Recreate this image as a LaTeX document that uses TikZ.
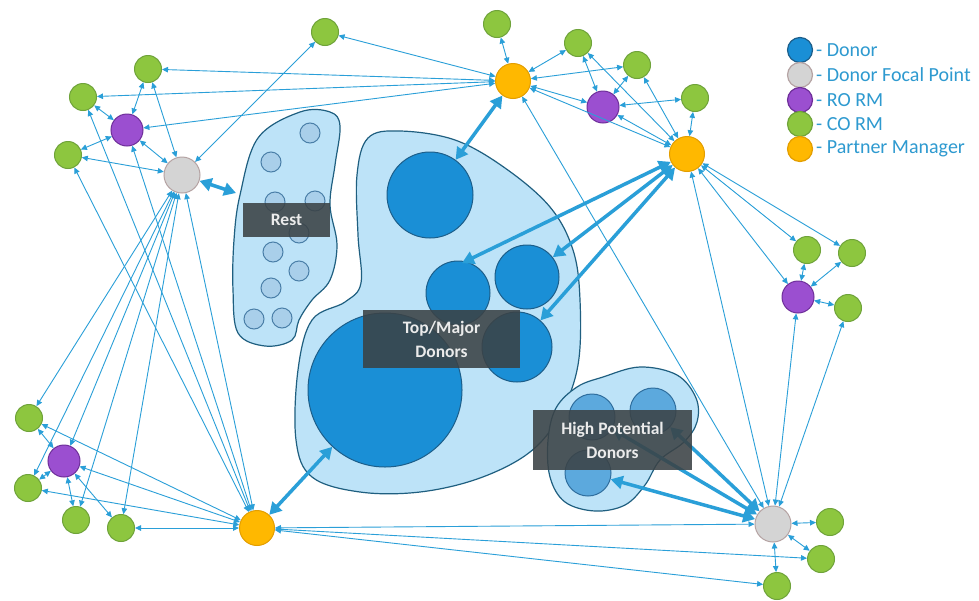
\documentclass[tikz,border=0pt]{standalone}
\usepackage{fontspec}
\setmainfont{Carlito}
\usetikzlibrary{arrows.meta}
\definecolor{edgec}{HTML}{2A9FD8}
\definecolor{greenf}{HTML}{8DC63F}
\definecolor{greenb}{HTML}{6FA33A}
\definecolor{purpf}{HTML}{9B4FD0}
\definecolor{purpb}{HTML}{6E2E99}
\definecolor{orangef}{HTML}{FFB800}
\definecolor{orangeb}{HTML}{E39E00}
\definecolor{greyf}{HTML}{D4D4D4}
\definecolor{greyb}{HTML}{B5A3A3}
\definecolor{donorf}{HTML}{1A8FD6}
\definecolor{donorb}{HTML}{1C5E8A}
\definecolor{blobf}{HTML}{BDE3F8}
\definecolor{blobb}{HTML}{1F5F80}
\definecolor{restf}{HTML}{A9CFEA}
\definecolor{restb}{HTML}{4A7FA8}
\definecolor{hpf}{HTML}{5CA9DD}
\definecolor{hpb}{HTML}{2F6E9E}
\definecolor{labelg}{HTML}{3B4245}
\definecolor{legtext}{HTML}{2E9AD0}
\begin{document}
\begin{tikzpicture}[x=1pt,y=-1pt,
  cog/.style={circle, draw=greenb, fill=greenf, line width=1pt, minimum size=27pt, inner sep=0pt},
  rog/.style={circle, draw=purpb, fill=purpf, line width=1pt, minimum size=32pt, inner sep=0pt},
  pmg/.style={circle, draw=orangeb, fill=orangef, line width=1pt, minimum size=35pt, inner sep=0pt},
  fpg/.style={circle, draw=greyb, fill=greyf, line width=1pt, minimum size=36pt, inner sep=0pt},
  dong/.style={circle, draw=donorb, fill=donorf, line width=1pt, inner sep=0pt},
  restc/.style={circle, draw=restb, fill=restf, line width=1pt, minimum size=20pt, inner sep=0pt},
  hpc/.style={circle, draw=hpb, fill=hpf, line width=1pt, minimum size=46pt, inner sep=0pt},
  blob/.style={draw=blobb, fill=blobf, line width=1.2pt},
  thinedge/.style={draw=edgec, line width=0.9pt, {Triangle[length=6pt,width=5.5pt]}-{Triangle[length=6pt,width=5.5pt]}},
  thickedge/.style={draw=edgec, line width=3.5pt, {Triangle[length=12pt,width=13pt]}-{Triangle[length=12pt,width=13pt]}},
  labelbox/.style={fill=labelg, fill opacity=0.88, text opacity=1, text=white!92!black, font=\fontsize{17.5}{24}\selectfont\bfseries, align=center, inner sep=0pt},
  legc/.style={circle, line width=1.2pt, minimum size=25pt, inner sep=0pt},
  legt/.style={anchor=west, text=legtext, font=\fontsize{20}{22}\selectfont, inner sep=0pt}
]
\useasboundingbox (0,0) rectangle (979,600);
\fill[white] (0,0) rectangle (979,600);

% blobs
\draw[blob] plot[smooth cycle, tension=0.6] coordinates {(300,112) (330,112) (340,126) (335,165) (330,205) (337,245) (330,280) (312,300) (299,320) (292,340) (265,346) (238,333) (233,290) (234,240) (240,195) (258,138)};
\draw[blob] plot[smooth cycle, tension=0.6] coordinates {(368,138) (400,131) (455,140) (505,168) (550,207) (573,250) (580,300) (578,365) (560,415) (530,452) (480,478) (420,492) (360,492) (312,477) (296,440) (298,370) (312,320) (345,302) (361,283) (358,235) (357,175)};
\draw[blob] plot[smooth cycle, tension=0.6] coordinates {(603,377) (640,367) (677,375) (696,398) (697,422) (684,442) (660,460) (645,485) (625,505) (595,511) (565,502) (550,477) (548,440) (556,408) (577,387)};

% donors
\node[dong, minimum size=86pt] (d1) at (430,195) {};
\node[dong, minimum size=64pt] (d2) at (458,293) {};
\node[dong, minimum size=64pt] (d3) at (527,277) {};
\node[dong, minimum size=70pt] (d4) at (517,347) {};
\node[dong, minimum size=154pt] (d5) at (385,390) {};

% rest
\node[restc] (r1) at (310,133) {};
\node[restc] (r2) at (271,162) {};
\node[restc] (r3) at (275,202) {};
\node[restc] (r4) at (315,201) {};
\node[restc] (r5) at (299,233) {};
\node[restc] (r6) at (273,252) {};
\node[restc] (r7) at (299,271) {};
\node[restc] (r8) at (271,288) {};
\node[restc] (r9) at (254,319) {};
\node[restc] (r10) at (282,318) {};

% high potential
\node[hpc] (h1) at (592,417) {};
\node[hpc] (h2) at (653,411) {};
\node[hpc] (h3) at (588,473) {};

% people
\node[cog] (g1) at (325,32) {};
\node[cog] (g2) at (148,69) {};
\node[cog] (g3) at (83,97) {};
\node[rog] (p1) at (127,130) {};
\node[cog] (g4) at (68,155) {};
\node[fpg] (f1) at (182,175) {};
\node[cog] (g5) at (497,24) {};
\node[pmg] (o1) at (513,81) {};
\node[cog] (g6) at (578,43) {};
\node[cog] (g7) at (637,65) {};
\node[rog] (p2) at (603,107) {};
\node[cog] (g8) at (695,98) {};
\node[pmg] (o2) at (687,154) {};
\node[cog] (g9) at (807,250) {};
\node[cog] (g10) at (852,253) {};
\node[rog] (p3) at (798,297) {};
\node[cog] (g11) at (848,308) {};
\node[fpg] (f2) at (773,524) {};
\node[cog] (g12) at (830,522) {};
\node[cog] (g13) at (821,559) {};
\node[cog] (g14) at (777,586) {};
\node[cog] (g15) at (29,418) {};
\node[rog] (p4) at (64,461) {};
\node[cog] (g16) at (28,488) {};
\node[cog] (g17) at (76,520) {};
\node[cog] (g18) at (121,528) {};
\node[pmg] (o3) at (257,528) {};

\coordinate (restpt) at (236,193);
\coordinate (d2top) at (462,263);

% thin edges
\foreach \a/\b in {g2/o1, g3/o1, p1/o1, g1/o1, g1/f1, g4/f1, g2/p1, g3/p1, g4/p1, p1/f1, g2/f1,
  g3/o3, g4/o3, p1/o3, f1/o3, f1/g15, f1/p4, f1/g16, f1/g17, f1/g18,
  p4/g15, p4/g16, p4/g17, p4/g18, o3/g15, o3/p4, o3/g16, o3/g18,
  o1/g5, o1/g6, o1/g7, o1/p2, o1/o2, o1/f2, g6/p2, g7/p2, p2/g8, g8/o2, g7/o2, g6/o2, p2/o2,
  o2/g9, o2/g10, o2/p3, o2/f2, p3/g9, p3/g10, p3/g11, f2/p3, f2/g11,
  f2/g12, f2/g13, f2/g14, o3/f2, o3/g13, o3/g14}
  \draw[thinedge] (\a) -- (\b);

% thick edges
\draw[thickedge] (o1) -- (d1);
\draw[thickedge] (f1) -- (restpt);
\draw[thickedge] (o3) -- (d5);
\draw[thickedge] (o2) -- (d2top);
\draw[thickedge] (o2) -- (d3);
\draw[thickedge] (o2) -- (d4);
\draw[thickedge] (f2) -- (h3);
\draw[thickedge] (f2) -- (h1);
\draw[thickedge] (f2) -- (h2);

% labels
\node[labelbox, minimum width=87pt, minimum height=34pt] (lrest) at (286.5,220) {Rest};
\node[labelbox, minimum width=157pt, minimum height=58pt] (ltop) at (441.5,339) {Top/Major\\Donors};
\node[labelbox, minimum width=159pt, minimum height=60pt] (lhp) at (612.5,440) {High Potential\\Donors};

% legend
\node[legc, draw=donorb, fill=donorf] (lg1) at (800,50) {};
\node[legc, draw=greyb, fill=greyf] (lg2) at (800,75) {};
\node[legc, draw=purpb, fill=purpf] (lg3) at (800,100) {};
\node[legc, draw=greenb, fill=greenf] (lg4) at (800,124) {};
\node[legc, draw=orangeb, fill=orangef] (lg5) at (800,149) {};
\node[legt] (lt1) at (816,50) {- Donor};
\node[legt] (lt2) at (816,75) {- Donor Focal Point};
\node[legt] (lt3) at (816,100) {- RO RM};
\node[legt] (lt4) at (816,124) {- CO RM};
\node[legt] (lt5) at (816,149) {- Partner Manager};
\end{tikzpicture}
\end{document}
